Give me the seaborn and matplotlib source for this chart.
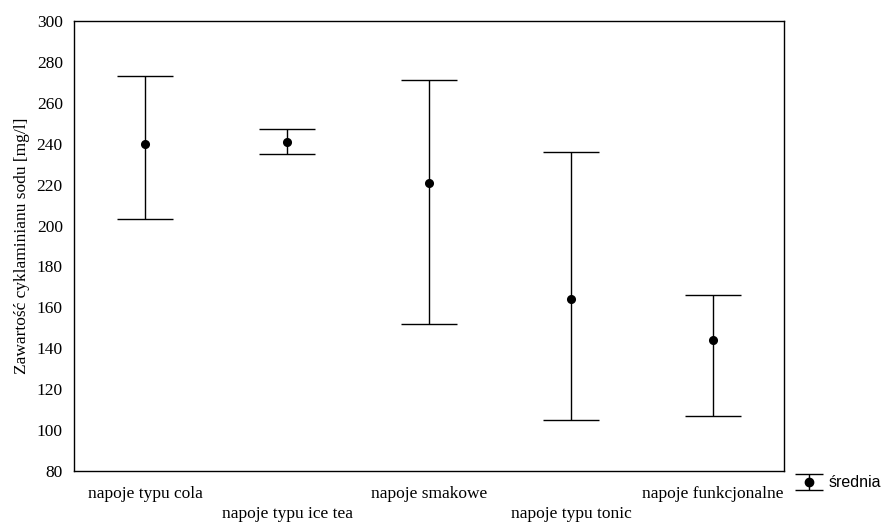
import numpy as np
import pandas as pd
import matplotlib
matplotlib.use("Agg")
import matplotlib.pyplot as plt
import seaborn as sns

categories = ["napoje typu cola", "napoje typu ice tea", "napoje smakowe",
              "napoje typu tonic", "napoje funkcjonalne"]
means = [240, 241, 221, 164, 144]
lower = [203, 235, 152, 105, 107]
upper = [273, 247, 271, 236, 166]

sns.set_style("white")
plt.rcParams["font.family"] = ["Liberation Serif", "DejaVu Serif"]
plt.rcParams["text.color"] = "black"
plt.rcParams["axes.labelcolor"] = "black"
plt.rcParams["xtick.color"] = "black"
plt.rcParams["ytick.color"] = "black"

df = pd.DataFrame({"kategoria": categories, "srednia": means})

fig = plt.figure(figsize=(8.87, 5.22), dpi=100)
ax = fig.add_axes([0.0834, 0.0977, 0.8006, 0.8621])

err_lo = np.array(means) - np.array(lower)
err_hi = np.array(upper) - np.array(means)
ax.errorbar(x=np.arange(len(categories)), y=means, yerr=[err_lo, err_hi],
            fmt="none", ecolor="black", elinewidth=1, capsize=20,
            capthick=1)
sns.pointplot(data=df, x="kategoria", y="srednia", linestyle="none",
              color="black", errorbar=None, markersize=4.5, ax=ax,
              legend=False)

# dummy for the legend entry
dummy = ax.errorbar([np.nan], [np.nan], yerr=[[1], [1]], fmt="o",
                    color="black", markersize=6, elinewidth=1,
                    capsize=10, capthick=1, label="średnia")

ax.set_ylim(80, 300)
ax.set_xlim(-0.5, len(categories) - 0.5)
ax.set_yticks(np.arange(80, 301, 20))
labels = [c if i % 2 == 0 else "\n" + c for i, c in enumerate(categories)]
ax.set_xticks(np.arange(len(categories)))
ax.set_xticklabels(labels, fontsize=12.5, linespacing=1.3)
ax.tick_params(axis="x", which="major", length=0, pad=11)
ax.set_xticks(np.arange(len(categories) - 1) + 0.5, minor=True)
ax.tick_params(axis="x", which="minor", direction="in", length=4,
               width=0.8, color="black")
ax.tick_params(axis="y", length=0, labelsize=12.5, pad=8)
ax.set_xlabel("")
ax.set_ylabel("Zawartość cyklaminianu sodu [mg/l]", fontsize=12.5,
              labelpad=5)

if ax.get_legend() is not None:
    ax.get_legend().remove()

for s in ax.spines.values():
    s.set_color("black")
    s.set_linewidth(1)

fig.legend([dummy], ["średnia"], loc="center left",
           bbox_to_anchor=(0.895, 0.075), frameon=False,
           prop={"family": "Liberation Sans", "size": 11.5},
           handlelength=1.5, handletextpad=0.5, borderaxespad=0,
           borderpad=0.2)

fig.savefig("out.png", dpi=100)
